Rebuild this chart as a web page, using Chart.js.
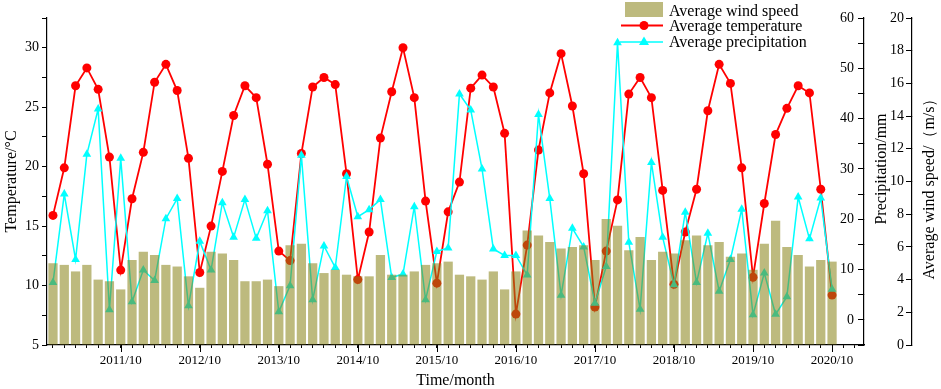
<!DOCTYPE html>
<html>
<head>
<meta charset="utf-8">
<script src="https://cdn.jsdelivr.net/npm/chart.js"></script>
<style>
  body { margin: 0; background: #fff; }
  canvas { display: block; }
</style>
</head>
<body>
<canvas id="chart" width="941" height="389"></canvas>
<script>
// growing season months, April to October, 2011-2020
const years = ["2011", "2012", "2013", "2014", "2015", "2016", "2017", "2018", "2019", "2020"];
const monthNums = ["04", "05", "06", "07", "08", "09", "10"];
let months = [];
years.forEach(y => monthNums.forEach(m => months.push(y + "/" + m)));

const temperature = [
  15.9, 19.9, 26.8, 28.3, 26.5, 20.8, 11.3,
  17.3, 21.2, 27.1, 28.6, 26.4, 20.7, 11.1,
  15.0, 19.6, 24.3, 26.8, 25.8, 20.2, 12.9,
  12.1, 21.1, 26.7, 27.5, 26.9, 19.4, 10.5,
  14.5, 22.4, 26.3, 30.0, 25.8, 17.1, 10.2,
  16.2, 18.7, 26.6, 27.7, 26.7, 22.8, 7.6,
  13.4, 21.4, 26.2, 29.5, 25.1, 19.4, 8.2,
  12.9, 17.2, 26.1, 27.5, 25.8, 18.0, 10.1,
  14.5, 18.1, 24.7, 28.6, 27.0, 19.9, 10.7,
  16.9, 22.7, 24.9, 26.8, 26.2, 18.1, 9.2
];
const precipitation = [
  7.4, 25.0, 12.0, 32.9, 41.9, 2.0, 32.1,
  3.6, 9.9, 7.8, 20.1, 24.1, 2.8, 15.6,
  9.9, 23.3, 16.4, 23.9, 16.2, 21.7, 1.6,
  6.8, 32.7, 4.0, 14.7, 10.4, 28.5, 20.5,
  21.9, 23.9, 8.4, 9.1, 22.5, 4.0, 13.6,
  14.3, 44.9, 41.7, 30.0, 14.1, 12.8, 12.8,
  8.9, 40.8, 24.1, 4.9, 18.2, 14.5, 3.3,
  10.6, 55.1, 15.4, 2.1, 31.3, 16.4, 7.0,
  21.4, 7.4, 17.2, 5.7, 12.0, 22.0, 1.0,
  9.3, 1.1, 4.6, 24.4, 16.1, 24.2, 6.1
];
const windSpeed = [
  5.0, 4.9, 4.5, 4.9, 4.0, 3.9, 3.4,
  5.2, 5.7, 5.5, 4.9, 4.8, 4.2, 3.5,
  5.7, 5.6, 5.2, 3.9, 3.9, 4.0, 3.6,
  6.1, 6.2, 5.0, 4.4, 4.6, 4.3, 4.2,
  4.2, 5.5, 4.3, 4.3, 4.5, 4.9, 5.0,
  5.1, 4.3, 4.2, 4.0, 4.5, 3.4, 4.5,
  7.0, 6.7, 6.3, 5.9, 6.0, 6.1, 5.2,
  7.7, 7.3, 5.8, 6.6, 5.2, 5.7, 5.6,
  6.4, 6.7, 6.1, 6.3, 5.4, 5.6, 4.6,
  6.2, 7.6, 6.0, 5.5, 4.8, 5.2, 5.1
];

const serif = "'Liberation Serif', 'Times New Roman', serif";
const barColor = "rgba(135,130,20,0.55)";
const tempColor = "#ff0000";
const rainColor = "#00ffff";

function points(arr) {
  return arr.map((v, i) => ({ x: i, y: v }));
}

function vTitle(c, text, x, y) {
  c.save();
  c.fillStyle = "#000";
  c.font = "16px " + serif;
  c.textAlign = "center";
  c.textBaseline = "middle";
  c.translate(x, y);
  c.rotate(-Math.PI / 2);
  c.fillText(text, 0, 0);
  c.restore();
}

// right-hand axis titles read bottom-to-top, longer October ticks, legend over the plot
const extras = {
  id: "extras",
  afterDraw(chart) {
    const c = chart.ctx;
    const xs = chart.scales.x;
    vTitle(c, "Precipitation/mm", chart.scales.y1.left + 18, 169);
    vTitle(c, "Average wind speed/（m/s）", chart.scales.y2.left + 18, 185);

    c.save();
    c.strokeStyle = "#000";
    c.lineWidth = 1;
    months.forEach((m, i) => {
      if (!m.endsWith("/10")) return;
      const px = Math.round(xs.getPixelForValue(i)) + 0.5;
      c.beginPath(); c.moveTo(px, xs.top); c.lineTo(px, xs.top + 7); c.stroke();
    });
    c.restore();

    // legend
    c.save();
    c.fillStyle = barColor;
    c.fillRect(625, 2, 38, 15);
    c.strokeStyle = tempColor;
    c.lineWidth = 1.8;
    c.beginPath(); c.moveTo(621, 25.5); c.lineTo(663, 25.5); c.stroke();
    c.fillStyle = tempColor;
    c.beginPath(); c.arc(644, 25.5, 4.5, 0, Math.PI * 2); c.fill();
    c.strokeStyle = rainColor;
    c.lineWidth = 1.5;
    c.beginPath(); c.moveTo(620, 42); c.lineTo(663, 42); c.stroke();
    c.fillStyle = rainColor;
    c.beginPath(); c.moveTo(644, 36.5); c.lineTo(649, 45); c.lineTo(639, 45); c.closePath(); c.fill();
    c.fillStyle = "#000";
    c.font = "16px " + serif;
    c.textAlign = "left";
    c.textBaseline = "alphabetic";
    c.fillText("Average wind speed", 669, 15.5);
    c.fillText("Average temperature", 669, 31);
    c.fillText("Average precipitation", 669, 46.5);
    c.restore();
  }
};

const ctx = document.getElementById("chart");
new Chart(ctx, {
  type: "bar",
  data: {
    datasets: [
      {
        type: "bar",
        label: "Average wind speed",
        data: points(windSpeed),
        yAxisID: "y2",
        backgroundColor: barColor,
        borderWidth: 0,
        barPercentage: 0.82,
        categoryPercentage: 1,
        order: 0,
      },
      {
        type: "line",
        label: "Average temperature",
        data: points(temperature),
        yAxisID: "y",
        borderColor: tempColor,
        backgroundColor: tempColor,
        borderWidth: 1.8,
        pointRadius: 4.5,
        pointBorderWidth: 0,
        tension: 0,
        order: 2,
      },
      {
        type: "line",
        label: "Average precipitation",
        data: points(precipitation),
        yAxisID: "y1",
        borderColor: rainColor,
        backgroundColor: rainColor,
        borderWidth: 1.5,
        pointStyle: "triangle",
        pointRadius: 5,
        pointBorderWidth: 0,
        tension: 0,
        order: 1,
      },
    ],
  },
  options: {
    responsive: false,
    animation: false,
    events: [],
    layout: { padding: { top: 18, left: 0, right: 0, bottom: 0 } },
    plugins: {
      legend: { display: false },
      tooltip: { enabled: false },
    },
    scales: {
      x: {
        type: "linear",
        min: -0.53,
        max: 71.83,
        offset: false,
        grid: { display: true, drawOnChartArea: false, offset: false, tickLength: 3, color: "#000" },
        border: { color: "#000", width: 1.2 },
        ticks: {
          stepSize: 1,
          autoSkip: false,
          maxRotation: 0,
          includeBounds: false,
          padding: 5,
          color: "#000",
          font: { family: serif, size: 13 },
          callback: v => (months[v] && months[v].endsWith("/10")) ? months[v] : "",
        },
        title: { display: true, text: "Time/month", color: "#000", padding: 0, font: { family: serif, size: 16, lineHeight: 1 } },
        afterFit: s => { s.height = 44; },
      },
      y: {
        position: "left",
        min: 5,
        max: 32.5,
        grid: { display: true, drawOnChartArea: false, tickLength: 5, color: "#000" },
        border: { color: "#000", width: 1.2 },
        ticks: {
          stepSize: 2.5,
          padding: 3,
          color: "#000",
          font: { family: serif, size: 14 },
          callback: v => v % 5 === 0 ? v : "",
        },
        title: { display: true, text: "Temperature/°C", color: "#000", padding: { top: 4, bottom: 0 }, font: { family: serif, size: 16, lineHeight: 1 } },
        afterFit: s => { s.width = 47; },
      },
      y1: {
        position: "right",
        min: -5,
        max: 60,
        grid: { display: true, drawOnChartArea: false, tickLength: -6, color: "#000" },
        border: { color: "#000", width: 1.2 },
        ticks: {
          stepSize: 5,
          mirror: true,
          padding: -10,
          color: "#000",
          font: { family: serif, size: 14 },
          callback: v => (v >= 0 && v % 10 === 0) ? v : "",
        },
        afterFit: s => { s.width = 48; },
      },
      y2: {
        position: "right",
        min: 0,
        max: 20,
        grid: { display: true, drawOnChartArea: false, tickLength: -6, color: "#000" },
        border: { color: "#000", width: 1.2 },
        ticks: {
          stepSize: 2,
          mirror: true,
          padding: -8,
          color: "#000",
          font: { family: serif, size: 14 },
        },
        afterFit: s => { s.width = 29; },
      },
    },
  },
  plugins: [extras],
});
</script>
</body>
</html>
